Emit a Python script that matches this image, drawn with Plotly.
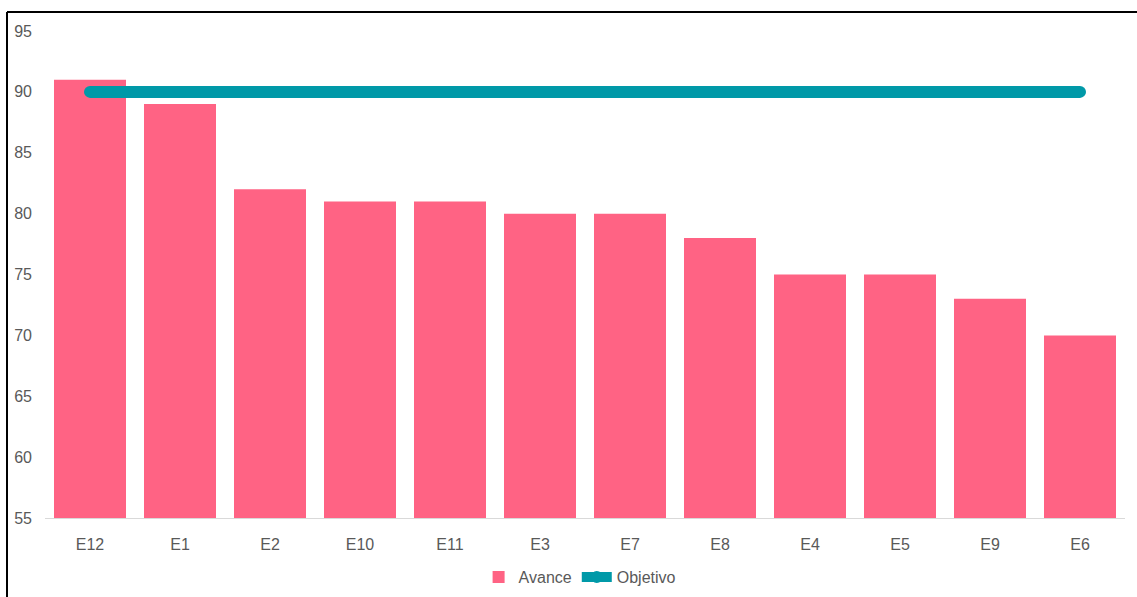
import plotly.graph_objects as go

categories = ["E12", "E1", "E2", "E10", "E11", "E3", "E7", "E8", "E4", "E5", "E9", "E6"]
avance = [91, 89, 82, 81, 81, 80, 80, 78, 75, 75, 73, 70]
objetivo = [90] * 12
y_ticks = [55, 60, 65, 70, 75, 80, 85, 90, 95]

W, H = 1137, 597
L, R, T, B = 45, 12, 31, 79
pw, ph = W - L - R, H - T - B

def px_x(x):
    return (x - L) / pw

def px_y(y):
    return (H - B - y) / ph

font = "Liberation Sans Narrow, Liberation Sans, Arial, sans-serif"
gray = "#595959"

fig = go.Figure()
fig.add_trace(go.Bar(x=categories, y=avance, name="Avance",
                     marker=dict(color="#FF6384", line=dict(width=0))))
fig.add_trace(go.Scatter(x=categories, y=objetivo, name="Objetivo", mode="lines+markers",
                         line=dict(color="#0099A8", width=12),
                         marker=dict(color="#0099A8", size=12, line=dict(width=0)),
                         cliponaxis=False))

fig.update_layout(
    width=W, height=H,
    margin=dict(l=L, r=R, t=T, b=B, autoexpand=False),
    paper_bgcolor="white", plot_bgcolor="white",
    bargap=0.2,
    font=dict(family=font, size=16, color=gray),
    showlegend=True,
    legend=dict(orientation="h", x=0.495, xanchor="center", yref="container",
                y=(H - 577) / H, yanchor="middle",
                font=dict(size=16, color=gray), itemwidth=30,
                traceorder="normal"),
    xaxis=dict(showgrid=False, showline=True, linecolor="#D9D9D9", linewidth=1,
               range=[-0.5, len(categories) - 0.5],
               ticks="", ticklabelstandoff=12, tickfont=dict(size=16, color=gray)),
    yaxis=dict(range=[55, 95], tickvals=y_ticks, showgrid=False, zeroline=False,
               showline=False, ticks="", ticklabelstandoff=12,
               tickfont=dict(size=16, color=gray)),
    shapes=[
        dict(type="line", xref="paper", yref="paper",
             x0=px_x(7), x1=px_x(7), y0=px_y(12), y1=px_y(620),
             line=dict(color="black", width=2)),
        dict(type="line", xref="paper", yref="paper",
             x0=px_x(7), x1=px_x(1140), y0=px_y(12), y1=px_y(12),
             line=dict(color="black", width=2)),
    ],
)

fig.write_html("out.html")
